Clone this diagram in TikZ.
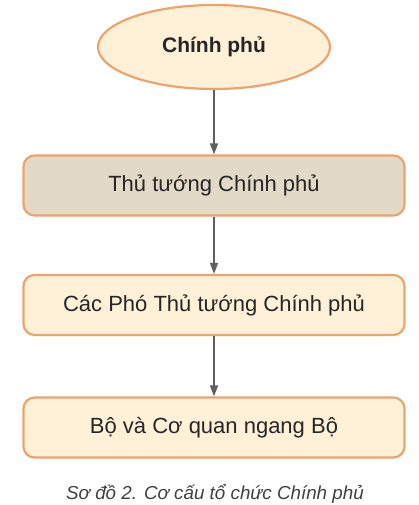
\documentclass[tikz,border=0pt]{standalone}
\usepackage{fontspec}
\setmainfont{Liberation Sans}
\usetikzlibrary{shapes.geometric,arrows.meta}

\definecolor{boxedge}{RGB}{236,163,110}
\definecolor{boxfill}{RGB}{254,241,216}
\definecolor{headfill}{RGB}{226,217,198}
\definecolor{linkgray}{RGB}{95,95,95}

\tikzset{
  orgbox/.style={draw=boxedge, line width=2.2pt, rounded corners=11pt, fill=boxfill,
    minimum width=381pt, minimum height=60pt, inner sep=0pt,
    font=\fontsize{22}{26}\selectfont, text=black!85},
  link/.style={draw=linkgray, line width=1.4pt, -{Triangle[length=11pt,width=8pt]}}
}

\begin{document}
\begin{tikzpicture}[x=1pt, y=-1pt]
% Page size of the reference
\useasboundingbox (0,0) rectangle (418,505);

% Top of the chart
\node[ellipse, draw=boxedge, line width=2.2pt, fill=boxfill, minimum width=232pt,
  minimum height=84pt, inner sep=0pt, font=\fontsize{21}{25}\selectfont\bfseries,
  text=black!85] (govt) at (214, 47) {Chính phủ};

% The three levels below it
\node[orgbox, fill=headfill] (pm) at (214, 185.5) {Thủ tướng Chính phủ};
\node[orgbox] (deputy) at (214, 305) {Các Phó Thủ tướng Chính phủ};
\node[orgbox] (ministry) at (214, 427.5) {Bộ và Cơ quan ngang Bộ};

% Arrows between levels
\draw[link] (govt) -- (pm);
\draw[link] (pm) -- (deputy);
\draw[link] (deputy) -- (ministry);

% Caption
\node[font=\fontsize{18.8}{22}\selectfont\itshape, text=black!75] (caption) at (215, 494)
  {Sơ đồ 2. Cơ cấu tổ chức Chính phủ};
\end{tikzpicture}
\end{document}
